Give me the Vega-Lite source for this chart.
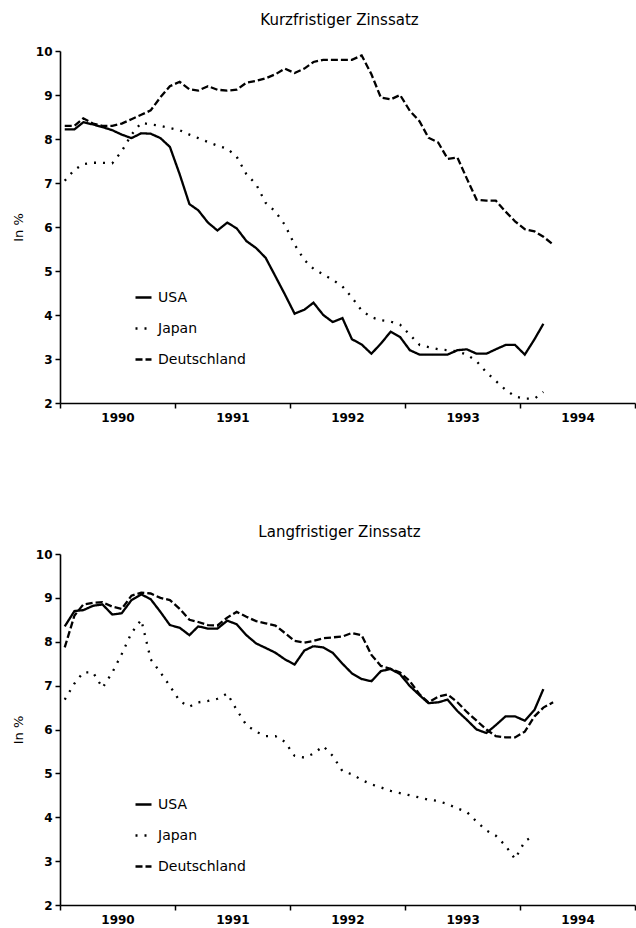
{
  "$schema": "https://vega.github.io/schema/vega-lite/v6.json",
  "padding": {"left": 12, "top": 13, "right": 0, "bottom": 0},
  "background": "white",
  "bounds": "flush",
  "spacing": 151,
  "resolve": {"scale": {"strokeDash": "independent"}, "legend": {"strokeDash": "independent"}},
  "config": {
    "font": "DejaVu Sans",
    "view": {"stroke": null},
    "axis": {"domainColor": "black", "domainWidth": 1.6, "tickColor": "black", "tickWidth": 1.5, "tickSize": 5, "labelColor": "black", "labelFont": "DejaVu Sans", "labelFontSize": 12, "labelFontWeight": "bold", "titleFont": "DejaVu Sans", "titleColor": "black", "titleFontWeight": "normal", "titleFontSize": 13, "grid": false},
    "title": {"font": "DejaVu Sans", "fontSize": 15, "fontWeight": "normal", "color": "black"},
    "legend": {"labelFont": "DejaVu Sans", "labelFontSize": 14, "labelColor": "black"}
  },
  "datasets": {
    "kurz": [
      {"date":"1990-01-16","series":"USA","value":8.22},{"date":"1990-02-16","series":"USA","value":8.22},{"date":"1990-03-16","series":"USA","value":8.38},{"date":"1990-04-16","series":"USA","value":8.33},{"date":"1990-05-16","series":"USA","value":8.27},{"date":"1990-06-16","series":"USA","value":8.2},{"date":"1990-07-16","series":"USA","value":8.1},{"date":"1990-08-16","series":"USA","value":8.02},{"date":"1990-09-16","series":"USA","value":8.13},{"date":"1990-10-16","series":"USA","value":8.12},{"date":"1990-11-16","series":"USA","value":8.02},{"date":"1990-12-16","series":"USA","value":7.82},
      {"date":"1991-01-16","series":"USA","value":7.2},{"date":"1991-02-16","series":"USA","value":6.52},{"date":"1991-03-16","series":"USA","value":6.38},{"date":"1991-04-16","series":"USA","value":6.1},{"date":"1991-05-16","series":"USA","value":5.92},{"date":"1991-06-16","series":"USA","value":6.1},{"date":"1991-07-16","series":"USA","value":5.97},{"date":"1991-08-16","series":"USA","value":5.68},{"date":"1991-09-16","series":"USA","value":5.52},{"date":"1991-10-16","series":"USA","value":5.3},{"date":"1991-11-16","series":"USA","value":4.88},{"date":"1991-12-16","series":"USA","value":4.47},
      {"date":"1992-01-16","series":"USA","value":4.03},{"date":"1992-02-16","series":"USA","value":4.12},{"date":"1992-03-16","series":"USA","value":4.28},{"date":"1992-04-16","series":"USA","value":4.0},{"date":"1992-05-16","series":"USA","value":3.84},{"date":"1992-06-16","series":"USA","value":3.93},{"date":"1992-07-16","series":"USA","value":3.45},{"date":"1992-08-16","series":"USA","value":3.33},{"date":"1992-09-16","series":"USA","value":3.12},{"date":"1992-10-16","series":"USA","value":3.35},{"date":"1992-11-16","series":"USA","value":3.62},{"date":"1992-12-16","series":"USA","value":3.5},
      {"date":"1993-01-16","series":"USA","value":3.2},{"date":"1993-02-16","series":"USA","value":3.1},{"date":"1993-03-16","series":"USA","value":3.1},{"date":"1993-04-16","series":"USA","value":3.1},{"date":"1993-05-16","series":"USA","value":3.1},{"date":"1993-06-16","series":"USA","value":3.2},{"date":"1993-07-16","series":"USA","value":3.22},{"date":"1993-08-16","series":"USA","value":3.12},{"date":"1993-09-16","series":"USA","value":3.12},{"date":"1993-10-16","series":"USA","value":3.22},{"date":"1993-11-16","series":"USA","value":3.32},{"date":"1993-12-16","series":"USA","value":3.32},
      {"date":"1994-01-16","series":"USA","value":3.1},{"date":"1994-02-16","series":"USA","value":3.45},{"date":"1994-03-16","series":"USA","value":3.8},
      {"date":"1990-01-16","series":"Japan","value":7.05},{"date":"1990-02-16","series":"Japan","value":7.3},{"date":"1990-03-16","series":"Japan","value":7.43},{"date":"1990-04-16","series":"Japan","value":7.46},{"date":"1990-05-16","series":"Japan","value":7.46},{"date":"1990-06-16","series":"Japan","value":7.45},{"date":"1990-07-16","series":"Japan","value":7.72},{"date":"1990-08-16","series":"Japan","value":8.1},{"date":"1990-09-16","series":"Japan","value":8.37},{"date":"1990-10-16","series":"Japan","value":8.33},{"date":"1990-11-16","series":"Japan","value":8.3},{"date":"1990-12-16","series":"Japan","value":8.25},
      {"date":"1991-01-16","series":"Japan","value":8.2},{"date":"1991-02-16","series":"Japan","value":8.1},{"date":"1991-03-16","series":"Japan","value":8.02},{"date":"1991-04-16","series":"Japan","value":7.93},{"date":"1991-05-16","series":"Japan","value":7.85},{"date":"1991-06-16","series":"Japan","value":7.78},{"date":"1991-07-16","series":"Japan","value":7.6},{"date":"1991-08-16","series":"Japan","value":7.2},{"date":"1991-09-16","series":"Japan","value":6.97},{"date":"1991-10-16","series":"Japan","value":6.55},{"date":"1991-11-16","series":"Japan","value":6.35},{"date":"1991-12-16","series":"Japan","value":6.05},
      {"date":"1992-01-16","series":"Japan","value":5.6},{"date":"1992-02-16","series":"Japan","value":5.25},{"date":"1992-03-16","series":"Japan","value":5.05},{"date":"1992-04-16","series":"Japan","value":4.92},{"date":"1992-05-16","series":"Japan","value":4.8},{"date":"1992-06-16","series":"Japan","value":4.65},{"date":"1992-07-16","series":"Japan","value":4.4},{"date":"1992-08-16","series":"Japan","value":4.1},{"date":"1992-09-16","series":"Japan","value":3.95},{"date":"1992-10-16","series":"Japan","value":3.88},{"date":"1992-11-16","series":"Japan","value":3.85},{"date":"1992-12-16","series":"Japan","value":3.78},
      {"date":"1993-01-16","series":"Japan","value":3.55},{"date":"1993-02-16","series":"Japan","value":3.32},{"date":"1993-03-16","series":"Japan","value":3.27},{"date":"1993-04-16","series":"Japan","value":3.22},{"date":"1993-05-16","series":"Japan","value":3.2},{"date":"1993-06-16","series":"Japan","value":3.17},{"date":"1993-07-16","series":"Japan","value":3.1},{"date":"1993-08-16","series":"Japan","value":2.95},{"date":"1993-09-16","series":"Japan","value":2.7},{"date":"1993-10-16","series":"Japan","value":2.5},{"date":"1993-11-16","series":"Japan","value":2.3},{"date":"1993-12-16","series":"Japan","value":2.15},
      {"date":"1994-01-16","series":"Japan","value":2.1},{"date":"1994-02-16","series":"Japan","value":2.1},{"date":"1994-03-16","series":"Japan","value":2.25},
      {"date":"1990-01-16","series":"Deutschland","value":8.3},{"date":"1990-02-16","series":"Deutschland","value":8.3},{"date":"1990-03-16","series":"Deutschland","value":8.47},{"date":"1990-04-16","series":"Deutschland","value":8.35},{"date":"1990-05-16","series":"Deutschland","value":8.3},{"date":"1990-06-16","series":"Deutschland","value":8.3},{"date":"1990-07-16","series":"Deutschland","value":8.35},{"date":"1990-08-16","series":"Deutschland","value":8.45},{"date":"1990-09-16","series":"Deutschland","value":8.55},{"date":"1990-10-16","series":"Deutschland","value":8.65},{"date":"1990-11-16","series":"Deutschland","value":8.95},{"date":"1990-12-16","series":"Deutschland","value":9.2},
      {"date":"1991-01-16","series":"Deutschland","value":9.3},{"date":"1991-02-16","series":"Deutschland","value":9.13},{"date":"1991-03-16","series":"Deutschland","value":9.1},{"date":"1991-04-16","series":"Deutschland","value":9.2},{"date":"1991-05-16","series":"Deutschland","value":9.12},{"date":"1991-06-16","series":"Deutschland","value":9.1},{"date":"1991-07-16","series":"Deutschland","value":9.12},{"date":"1991-08-16","series":"Deutschland","value":9.28},{"date":"1991-09-16","series":"Deutschland","value":9.32},{"date":"1991-10-16","series":"Deutschland","value":9.38},{"date":"1991-11-16","series":"Deutschland","value":9.47},{"date":"1991-12-16","series":"Deutschland","value":9.6},
      {"date":"1992-01-16","series":"Deutschland","value":9.5},{"date":"1992-02-16","series":"Deutschland","value":9.6},{"date":"1992-03-16","series":"Deutschland","value":9.75},{"date":"1992-04-16","series":"Deutschland","value":9.8},{"date":"1992-05-16","series":"Deutschland","value":9.8},{"date":"1992-06-16","series":"Deutschland","value":9.8},{"date":"1992-07-16","series":"Deutschland","value":9.8},{"date":"1992-08-16","series":"Deutschland","value":9.9},{"date":"1992-09-16","series":"Deutschland","value":9.47},{"date":"1992-10-16","series":"Deutschland","value":8.94},{"date":"1992-11-16","series":"Deutschland","value":8.9},{"date":"1992-12-16","series":"Deutschland","value":9.0},
      {"date":"1993-01-16","series":"Deutschland","value":8.64},{"date":"1993-02-16","series":"Deutschland","value":8.4},{"date":"1993-03-16","series":"Deutschland","value":8.03},{"date":"1993-04-16","series":"Deutschland","value":7.92},{"date":"1993-05-16","series":"Deutschland","value":7.55},{"date":"1993-06-16","series":"Deutschland","value":7.58},{"date":"1993-07-16","series":"Deutschland","value":7.1},{"date":"1993-08-16","series":"Deutschland","value":6.62},{"date":"1993-09-16","series":"Deutschland","value":6.6},{"date":"1993-10-16","series":"Deutschland","value":6.6},{"date":"1993-11-16","series":"Deutschland","value":6.35},{"date":"1993-12-16","series":"Deutschland","value":6.13},
      {"date":"1994-01-16","series":"Deutschland","value":5.95},{"date":"1994-02-16","series":"Deutschland","value":5.9},{"date":"1994-03-16","series":"Deutschland","value":5.78},{"date":"1994-04-16","series":"Deutschland","value":5.6}
    ],
    "lang": [
      {"date":"1990-01-16","series":"USA","value":8.35},{"date":"1990-02-16","series":"USA","value":8.7},{"date":"1990-03-16","series":"USA","value":8.72},{"date":"1990-04-16","series":"USA","value":8.82},{"date":"1990-05-16","series":"USA","value":8.85},{"date":"1990-06-16","series":"USA","value":8.62},{"date":"1990-07-16","series":"USA","value":8.65},{"date":"1990-08-16","series":"USA","value":8.95},{"date":"1990-09-16","series":"USA","value":9.08},{"date":"1990-10-16","series":"USA","value":8.97},{"date":"1990-11-16","series":"USA","value":8.68},{"date":"1990-12-16","series":"USA","value":8.38},
      {"date":"1991-01-16","series":"USA","value":8.32},{"date":"1991-02-16","series":"USA","value":8.15},{"date":"1991-03-16","series":"USA","value":8.35},{"date":"1991-04-16","series":"USA","value":8.3},{"date":"1991-05-16","series":"USA","value":8.3},{"date":"1991-06-16","series":"USA","value":8.48},{"date":"1991-07-16","series":"USA","value":8.4},{"date":"1991-08-16","series":"USA","value":8.15},{"date":"1991-09-16","series":"USA","value":7.96},{"date":"1991-10-16","series":"USA","value":7.86},{"date":"1991-11-16","series":"USA","value":7.75},{"date":"1991-12-16","series":"USA","value":7.6},
      {"date":"1992-01-16","series":"USA","value":7.48},{"date":"1992-02-16","series":"USA","value":7.8},{"date":"1992-03-16","series":"USA","value":7.9},{"date":"1992-04-16","series":"USA","value":7.87},{"date":"1992-05-16","series":"USA","value":7.75},{"date":"1992-06-16","series":"USA","value":7.5},{"date":"1992-07-16","series":"USA","value":7.28},{"date":"1992-08-16","series":"USA","value":7.15},{"date":"1992-09-16","series":"USA","value":7.1},{"date":"1992-10-16","series":"USA","value":7.33},{"date":"1992-11-16","series":"USA","value":7.38},{"date":"1992-12-16","series":"USA","value":7.26},
      {"date":"1993-01-16","series":"USA","value":6.99},{"date":"1993-02-16","series":"USA","value":6.78},{"date":"1993-03-16","series":"USA","value":6.6},{"date":"1993-04-16","series":"USA","value":6.62},{"date":"1993-05-16","series":"USA","value":6.68},{"date":"1993-06-16","series":"USA","value":6.42},{"date":"1993-07-16","series":"USA","value":6.22},{"date":"1993-08-16","series":"USA","value":6.0},{"date":"1993-09-16","series":"USA","value":5.92},{"date":"1993-10-16","series":"USA","value":6.1},{"date":"1993-11-16","series":"USA","value":6.3},{"date":"1993-12-16","series":"USA","value":6.3},
      {"date":"1994-01-16","series":"USA","value":6.2},{"date":"1994-02-16","series":"USA","value":6.45},{"date":"1994-03-16","series":"USA","value":6.92},
      {"date":"1990-01-16","series":"Japan","value":6.68},{"date":"1990-02-16","series":"Japan","value":7.05},{"date":"1990-03-16","series":"Japan","value":7.3},{"date":"1990-04-16","series":"Japan","value":7.3},{"date":"1990-05-16","series":"Japan","value":6.95},{"date":"1990-06-16","series":"Japan","value":7.3},{"date":"1990-07-16","series":"Japan","value":7.72},{"date":"1990-08-16","series":"Japan","value":8.2},{"date":"1990-09-16","series":"Japan","value":8.5},{"date":"1990-10-16","series":"Japan","value":7.6},{"date":"1990-11-16","series":"Japan","value":7.3},{"date":"1990-12-16","series":"Japan","value":6.99},
      {"date":"1991-01-16","series":"Japan","value":6.65},{"date":"1991-02-16","series":"Japan","value":6.52},{"date":"1991-03-16","series":"Japan","value":6.62},{"date":"1991-04-16","series":"Japan","value":6.65},{"date":"1991-05-16","series":"Japan","value":6.7},{"date":"1991-06-16","series":"Japan","value":6.82},{"date":"1991-07-16","series":"Japan","value":6.45},{"date":"1991-08-16","series":"Japan","value":6.1},{"date":"1991-09-16","series":"Japan","value":5.95},{"date":"1991-10-16","series":"Japan","value":5.85},{"date":"1991-11-16","series":"Japan","value":5.85},{"date":"1991-12-16","series":"Japan","value":5.72},
      {"date":"1992-01-16","series":"Japan","value":5.4},{"date":"1992-02-16","series":"Japan","value":5.36},{"date":"1992-03-16","series":"Japan","value":5.45},{"date":"1992-04-16","series":"Japan","value":5.62},{"date":"1992-05-16","series":"Japan","value":5.4},{"date":"1992-06-16","series":"Japan","value":5.05},{"date":"1992-07-16","series":"Japan","value":4.98},{"date":"1992-08-16","series":"Japan","value":4.85},{"date":"1992-09-16","series":"Japan","value":4.75},{"date":"1992-10-16","series":"Japan","value":4.68},{"date":"1992-11-16","series":"Japan","value":4.6},{"date":"1992-12-16","series":"Japan","value":4.55},
      {"date":"1993-01-16","series":"Japan","value":4.5},{"date":"1993-02-16","series":"Japan","value":4.45},{"date":"1993-03-16","series":"Japan","value":4.4},{"date":"1993-04-16","series":"Japan","value":4.37},{"date":"1993-05-16","series":"Japan","value":4.3},{"date":"1993-06-16","series":"Japan","value":4.2},{"date":"1993-07-16","series":"Japan","value":4.12},{"date":"1993-08-16","series":"Japan","value":3.9},{"date":"1993-09-16","series":"Japan","value":3.7},{"date":"1993-10-16","series":"Japan","value":3.58},{"date":"1993-11-16","series":"Japan","value":3.35},{"date":"1993-12-16","series":"Japan","value":3.05},
      {"date":"1994-01-16","series":"Japan","value":3.45},{"date":"1994-02-16","series":"Japan","value":3.6},
      {"date":"1990-01-16","series":"Deutschland","value":7.87},{"date":"1990-02-16","series":"Deutschland","value":8.6},{"date":"1990-03-16","series":"Deutschland","value":8.85},{"date":"1990-04-16","series":"Deutschland","value":8.89},{"date":"1990-05-16","series":"Deutschland","value":8.9},{"date":"1990-06-16","series":"Deutschland","value":8.8},{"date":"1990-07-16","series":"Deutschland","value":8.75},{"date":"1990-08-16","series":"Deutschland","value":9.05},{"date":"1990-09-16","series":"Deutschland","value":9.12},{"date":"1990-10-16","series":"Deutschland","value":9.1},{"date":"1990-11-16","series":"Deutschland","value":9.0},{"date":"1990-12-16","series":"Deutschland","value":8.95},
      {"date":"1991-01-16","series":"Deutschland","value":8.75},{"date":"1991-02-16","series":"Deutschland","value":8.5},{"date":"1991-03-16","series":"Deutschland","value":8.45},{"date":"1991-04-16","series":"Deutschland","value":8.38},{"date":"1991-05-16","series":"Deutschland","value":8.37},{"date":"1991-06-16","series":"Deutschland","value":8.55},{"date":"1991-07-16","series":"Deutschland","value":8.68},{"date":"1991-08-16","series":"Deutschland","value":8.57},{"date":"1991-09-16","series":"Deutschland","value":8.47},{"date":"1991-10-16","series":"Deutschland","value":8.42},{"date":"1991-11-16","series":"Deutschland","value":8.37},{"date":"1991-12-16","series":"Deutschland","value":8.2},
      {"date":"1992-01-16","series":"Deutschland","value":8.02},{"date":"1992-02-16","series":"Deutschland","value":7.98},{"date":"1992-03-16","series":"Deutschland","value":8.02},{"date":"1992-04-16","series":"Deutschland","value":8.08},{"date":"1992-05-16","series":"Deutschland","value":8.1},{"date":"1992-06-16","series":"Deutschland","value":8.12},{"date":"1992-07-16","series":"Deutschland","value":8.2},{"date":"1992-08-16","series":"Deutschland","value":8.15},{"date":"1992-09-16","series":"Deutschland","value":7.7},{"date":"1992-10-16","series":"Deutschland","value":7.45},{"date":"1992-11-16","series":"Deutschland","value":7.38},{"date":"1992-12-16","series":"Deutschland","value":7.3},
      {"date":"1993-01-16","series":"Deutschland","value":7.1},{"date":"1993-02-16","series":"Deutschland","value":6.8},{"date":"1993-03-16","series":"Deutschland","value":6.62},{"date":"1993-04-16","series":"Deutschland","value":6.75},{"date":"1993-05-16","series":"Deutschland","value":6.8},{"date":"1993-06-16","series":"Deutschland","value":6.62},{"date":"1993-07-16","series":"Deutschland","value":6.4},{"date":"1993-08-16","series":"Deutschland","value":6.2},{"date":"1993-09-16","series":"Deutschland","value":6.0},{"date":"1993-10-16","series":"Deutschland","value":5.85},{"date":"1993-11-16","series":"Deutschland","value":5.82},{"date":"1993-12-16","series":"Deutschland","value":5.82},
      {"date":"1994-01-16","series":"Deutschland","value":5.95},{"date":"1994-02-16","series":"Deutschland","value":6.3},{"date":"1994-03-16","series":"Deutschland","value":6.5},{"date":"1994-04-16","series":"Deutschland","value":6.62}
    ]
  },
  "vconcat": [
    {
      "title": {"text": "Kurzfristiger Zinssatz", "frame": "group", "dx": -8, "offset": 17},
      "width": 575,
      "height": 352,
      "data": {"name": "kurz"},
      "mark": {"type": "line", "strokeWidth": 2.3, "color": "black"},
      "encoding": {
        "x": {"field": "date", "type": "temporal",
          "scale": {"type": "utc", "domain": [{"year": 1990, "month": 1, "date": 1, "utc": true}, {"year": 1995, "month": 1, "date": 1, "utc": true}]},
          "axis": {"title": null, "values": [{"year": 1990, "utc": true}, {"year": 1991, "utc": true}, {"year": 1992, "utc": true}, {"year": 1993, "utc": true}, {"year": 1994, "utc": true}, {"year": 1995, "utc": true}],
            "labelExpr": "utcyear(datum.value) >= 1995 ? '' : '' + utcyear(datum.value)", "labelOffset": 57.5, "labelFlush": false, "labelOverlap": false, "labelBound": false, "labelPadding": 4}},
        "y": {"field": "value", "type": "quantitative", "scale": {"domain": [2, 10], "nice": false, "zero": false},
          "axis": {"title": "In %", "values": [2, 3, 4, 5, 6, 7, 8, 9, 10], "labelPadding": 3, "titlePadding": 10}},
        "strokeDash": {"field": "series", "type": "nominal",
          "scale": {"domain": ["USA", "Japan", "Deutschland"], "range": [[1, 0], [2, 7], [7, 3]]},
          "legend": {"title": null, "orient": "none", "legendX": 74, "legendY": 237, "symbolType": "stroke", "symbolSize": 256, "symbolStrokeWidth": 2.3, "symbolStrokeColor": "black", "rowPadding": 14, "labelOffset": 5}}
      }
    },
    {
      "title": {"text": "Langfristiger Zinssatz", "frame": "group", "dx": -8, "offset": 8},
      "width": 575,
      "height": 351,
      "data": {"name": "lang"},
      "mark": {"type": "line", "strokeWidth": 2.3, "color": "black"},
      "encoding": {
        "x": {"field": "date", "type": "temporal",
          "scale": {"type": "utc", "domain": [{"year": 1990, "month": 1, "date": 1, "utc": true}, {"year": 1995, "month": 1, "date": 1, "utc": true}]},
          "axis": {"title": null, "values": [{"year": 1990, "utc": true}, {"year": 1991, "utc": true}, {"year": 1992, "utc": true}, {"year": 1993, "utc": true}, {"year": 1994, "utc": true}, {"year": 1995, "utc": true}],
            "labelExpr": "utcyear(datum.value) >= 1995 ? '' : '' + utcyear(datum.value)", "labelOffset": 57.5, "labelFlush": false, "labelOverlap": false, "labelBound": false, "labelPadding": 4}},
        "y": {"field": "value", "type": "quantitative", "scale": {"domain": [2, 10], "nice": false, "zero": false},
          "axis": {"title": "In %", "values": [2, 3, 4, 5, 6, 7, 8, 9, 10], "labelPadding": 3, "titlePadding": 10}},
        "strokeDash": {"field": "series", "type": "nominal",
          "scale": {"domain": ["USA", "Japan", "Deutschland"], "range": [[1, 0], [2, 7], [7, 3]]},
          "legend": {"title": null, "orient": "none", "legendX": 74, "legendY": 241, "symbolType": "stroke", "symbolSize": 256, "symbolStrokeWidth": 2.3, "symbolStrokeColor": "black", "rowPadding": 14, "labelOffset": 5}}
      }
    }
  ]
}
